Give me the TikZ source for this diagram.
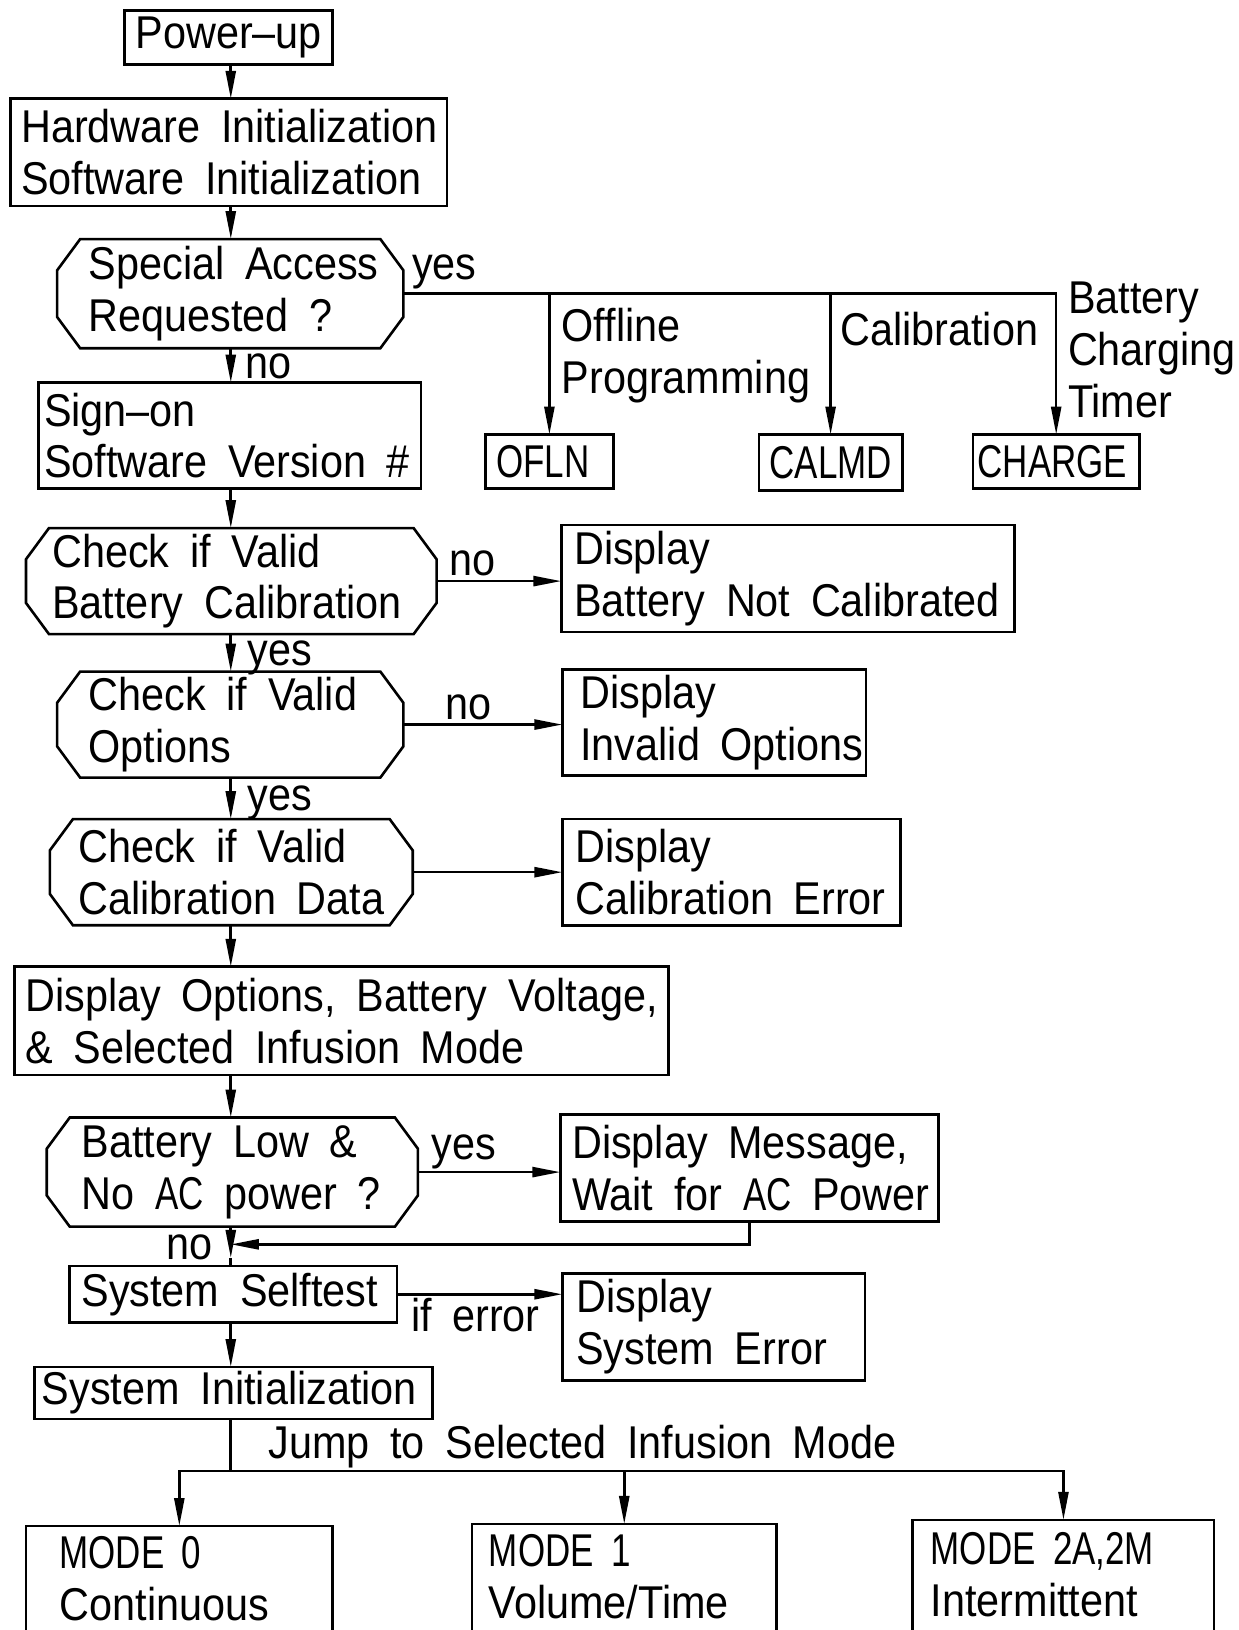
\documentclass[tikz,border=0pt]{standalone}
\usepackage{fontspec}
\setmainfont[FakeStretch=0.9,WordSpace=1.8]{Liberation Sans}
\newfontfamily\capfont[FakeStretch=0.76,WordSpace=1.8]{Liberation Sans}
\usetikzlibrary{arrows.meta,calc}
\tikzset{
  lw/.style={line width=1.3pt},
  boxsty/.style={draw, lw, inner sep=0pt, outer sep=0pt, anchor=north west},
  octsty/.style={draw=none, inner sep=0pt, outer sep=0pt, anchor=north west},
  txt/.style={align=left, inner sep=0pt, font=\fontsize{23}{26}\selectfont},
  lbl/.style={inner sep=0pt, font=\fontsize{23}{26}\selectfont},
  arr/.style={lw, -{Triangle[length=14pt,width=5pt]}},
}
% name, x1, y1, x2, y2, text-x, text
\newcommand\boxnode[7]{%
  \node[boxsty, minimum width={(#4-#2)*0.52pt}, minimum height={(#5-#3)*0.52pt}] (#1) at (#2,#3) {};
  \node[txt, anchor=west] (#1-t) at ([xshift={(#6-#2)*0.52pt}]#1.west) {#7};}
% open-bottom box: name, x1, y1, x2, text-x, text-centre-y, text
\newcommand\modenode[7]{%
  \node[boxsty, minimum width={(#4-#2)*0.52pt}, minimum height={(1575-#3)*0.52pt}] (#1) at (#2,#3) {};
  \node[txt, anchor=west] (#1-t) at (#5,#6) {#7};}
\newcommand\octnode[7]{%
  \node[octsty, minimum width={(#4-#2)*0.52pt}, minimum height={(#5-#3)*0.52pt}] (#1) at (#2,#3) {};
  \draw[lw] ([xshift=11.5pt]#1.north west) -- ([xshift=-11.5pt]#1.north east)
    -- ([yshift=-15.6pt]#1.north east) -- ([yshift=15.6pt]#1.south east)
    -- ([xshift=-11.5pt]#1.south east) -- ([xshift=11.5pt]#1.south west)
    -- ([yshift=15.6pt]#1.south west) -- ([yshift=-15.6pt]#1.north west) -- cycle;
  \node[txt, anchor=west] (#1-t) at ([xshift={(#6-#2)*0.52pt}]#1.west) {#7};}
\begin{document}
\begin{tikzpicture}[x=0.52pt,y=-0.52pt]
\useasboundingbox (0,0) rectangle (1191,1568);
\clip (0,0) rectangle (1191,1568);
\fill[white] (0,0) rectangle (1191,1568);
\coordinate (sp) at (222,0);

\boxnode{pwr}{120}{10}{320}{62}{130}{Power–up}
\boxnode{hw}{10}{95}{430}{198}{20}{Hardware Initialization\\Software Initialization}
\octnode{sa}{55}{230}{388}{335}{85}{Special Access\\Requested ?}
\boxnode{so}{37}{368}{405}{470}{42}{Sign–on\\Software Version \#}
\boxnode{ofln}{467}{418}{590}{470}{477}{\capfont OFLN}
\boxnode{calmd}{730}{418}{868}{472}{740}{\capfont CALMD}
\boxnode{chg}{936}{418}{1096}{470}{940}{\capfont CHARGE}
\octnode{cbc}{25}{508}{420}{610}{50}{Check if Valid\\Battery Calibration}
\boxnode{dbnc}{540}{505}{976}{608}{552}{Display\\Battery Not Calibrated}
\octnode{cvo}{55}{646}{388}{748}{85}{Check if Valid\\Options}
\boxnode{dio}{541}{644}{833}{746}{558}{Display\\Invalid Options}
\octnode{ccd}{48}{788}{397}{890}{75}{Check if Valid\\Calibration Data}
\boxnode{dce}{541}{788}{866}{890}{553}{Display\\Calibration Error}
\boxnode{dop}{14}{930}{643}{1034}{24}{Display Options, Battery Voltage,\\\& Selected Infusion Mode}
\octnode{bl}{45}{1075}{402}{1180}{78}{Battery Low \&\\No {\capfont AC} power ?}
\boxnode{dmsg}{539}{1072}{903}{1175}{550}{Display Message,\\Wait for {\capfont AC} Power}
\boxnode{sst}{67}{1218}{382}{1272}{78}{System Selftest}
\boxnode{dse}{541}{1225}{832}{1328}{554}{Display\\System Error}
\boxnode{sin}{33}{1315}{416}{1365}{40}{System Initialization}
\modenode{m0}{25}{1468}{320}{57}{1519}{{\capfont MODE 0}\\Continuous}
\modenode{m1}{454}{1466}{747}{470}{1517}{{\capfont MODE 1}\\Volume/Time}
\modenode{m2}{878}{1462}{1168}{895}{1515}{{\capfont MODE 2A,2M}\\Intermittent}

% main spine
\draw[arr] (sp |- pwr.south) -- (sp |- hw.north);
\draw[arr] (sp |- hw.south) -- (sp |- sa.north);
\draw[arr] (sp |- sa.south) -- (sp |- so.north);
\draw[arr] (sp |- so.south) -- (sp |- cbc.north);
\draw[arr] (sp |- cbc.south) -- (sp |- cvo.north);
\draw[arr] (sp |- cvo.south) -- (sp |- ccd.north);
\draw[arr] (sp |- ccd.south) -- (sp |- dop.north);
\draw[arr] (sp |- dop.south) -- (sp |- bl.north);
\coordinate (merge) at (222,1197);
\coordinate (mtip) at (222,1210);
\draw[arr] (sp |- bl.south) -- (mtip);
\draw[lw] (mtip) -- (sp |- sst.north);
\draw[arr] (dmsg.south) |- (merge);
\draw[arr] (sp |- sst.south) -- (sp |- sin.north);
\coordinate (jn) at (222,1415);
\draw[lw] (sp |- sin.south) -- (jn);
\draw[arr] (jn) -| (m0.north);
\draw[arr] (jn) -| (m2.north);
\draw[arr] (jn -| m1.north) -- (m1.north);

% special access branches
\draw[arr] (sa.east) -| (chg.north);
\draw[arr] (sa.east -| ofln.north) -- (ofln.north);
\draw[arr] (sa.east -| calmd.north) -- (calmd.north);

% side arrows
\draw[arr] (cbc.east) -- (cbc.east -| dbnc.west);
\draw[arr] (cvo.east) -- (cvo.east -| dio.west);
\draw[arr] (ccd.east) -- (ccd.east -| dce.west);
\draw[arr] (bl.east) -- (bl.east -| dmsg.west);
\draw[arr] (sst.east) -- (sst.east -| dse.west);

% labels
\node[lbl, anchor=west] (l1) at (396,262) {yes};
\node[txt, anchor=west] (l2) at (540,342) {Offline\\Programming};
\node[lbl, anchor=west] (l3) at (808,317) {Calibration};
\node[txt, anchor=west] (l4) at (1027,337) {Battery\\Charging\\Timer};
\node[lbl, anchor=west] (l5) at (236,352) {no};
\node[lbl, anchor=west] (l6) at (432,542) {no};
\node[lbl, anchor=west] (l7) at (238,633) {yes};
\node[lbl, anchor=west] (l8) at (428,680) {no};
\node[lbl, anchor=west] (l9) at (238,772) {yes};
\node[lbl, anchor=west] (l10) at (415,1108) {yes};
\node[lbl, anchor=east] (l11) at (205,1200) {no};
\node[lbl, anchor=west] (l12) at (395,1265) {if error};
\node[lbl, anchor=west] (l13) at (258,1392) {Jump to Selected Infusion Mode};
\end{tikzpicture}
\end{document}
